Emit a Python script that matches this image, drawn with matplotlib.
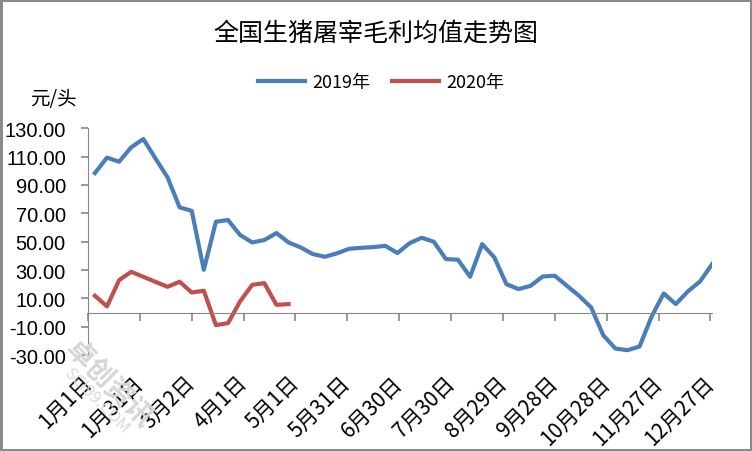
import datetime as dt
import pandas as pd
import matplotlib
matplotlib.use("Agg")
import matplotlib.pyplot as plt
import matplotlib.dates as mdates

plt.rcParams['font.family'] = ['Noto Sans CJK SC', 'DejaVu Sans']

# weekly gross profit, yuan per head
profit_2019 = [98.4, 109.3, 106.4, 116.6, 122.4, 108.8, 95.4, 74.2, 71.8, 30.2,
               64.1, 65.3, 54.7, 49.5, 51.2, 56.1, 49.5, 46.0, 41.3, 39.4,
               41.8, 45.0, 45.7, 46.2, 47.1, 42.0, 49.0, 52.8, 50.0, 37.8,
               37.3, 25.3, 48.3, 39.0, 20.1, 16.6, 18.9, 25.5, 26.0, 18.9,
               11.9, 3.7, -15.9, -25.3, -26.5, -23.9, -2.7, 13.5, 6.0, 15.0,
               22.0, 34.2]
# 2020 weeks 5-6 missing (spring festival)
profit_2020 = [11.9, 4.4, 22.9, 28.8, None, None, 18.2, 21.8, 14.2, 15.4,
               -8.8, -7.4, 8.0, 19.6, 20.8, 5.5, 6.0]

week_dates = pd.date_range("2019-01-05", periods=len(profit_2019), freq="7D")
tick_dates = pd.date_range("2019-01-01", "2019-12-27", freq="30D")
tick_labels = [f"{d.month}月{d.day}日" for d in tick_dates]
y_ticks = list(range(-30, 131, 20))

s2019 = pd.Series(profit_2019, index=week_dates)
s2020 = pd.Series(profit_2020, index=week_dates[:len(profit_2020)],
                  dtype=float).dropna()

fig = plt.figure(figsize=(7.52, 4.52), dpi=100)
fig.patch.set_edgecolor("#8a8a8a")
fig.patch.set_linewidth(2.5)
ax = fig.add_axes([0.117, 0.212, 0.830, 0.502])

ax.plot(s2019.index, s2019.values, color="#4a7ebb", lw=3, label="2019年",
        solid_joinstyle="round")
ax.plot(s2020.index, s2020.values, color="#c0504d", lw=3, label="2020年",
        solid_joinstyle="round")

ax.set_ylim(-30, 130)
ax.set_yticks(y_ticks)
ax.set_yticklabels([f"{v:.2f}" for v in y_ticks], fontsize=14.5,
                   family=["Liberation Sans", "DejaVu Sans"])
ax.set_xlim(mdates.date2num(dt.date(2019, 1, 1)),
            mdates.date2num(dt.date(2019, 12, 28)))

axis_grey = "#868686"
for side in ["top", "right"]:
    ax.spines[side].set_visible(False)
ax.spines["left"].set_color(axis_grey)
ax.spines["bottom"].set_color(axis_grey)
ax.spines["bottom"].set_position(("data", 0))
ax.set_xticks(tick_dates)
ax.tick_params(axis="x", colors=axis_grey, length=6, width=1.2,
               labelbottom=False)
ax.tick_params(axis="y", colors=axis_grey, length=5, width=1.2,
               labelcolor="black", pad=11)

# date labels sit below the plot, not on the zero line
sec = ax.secondary_xaxis("bottom")
sec.set_xticks(tick_dates)
sec.set_xticklabels(tick_labels, rotation=45, ha="right", va="center",
                    rotation_mode="anchor", fontsize=15)
sec.spines["bottom"].set_visible(False)
sec.tick_params(length=0, pad=17)

fig.text(0.5, 0.925, "全国生猪屠宰毛利均值走势图", ha="center", va="center",
         fontsize=18, weight="medium")
fig.text(0.04, 0.779, "元/头", ha="left", va="center", fontsize=14)
fig.legend(loc="center", bbox_to_anchor=(0.507, 0.816), ncol=2,
           frameon=False, fontsize=13, handlelength=2.6, columnspacing=1.2,
           handletextpad=0.4)

# faint watermark in the lower-left corner, behind everything
fig.text(0.145, 0.15, "卓创资讯", rotation=-45, ha="center", va="center",
         fontsize=20, color="#d6d6d6", weight="bold", zorder=0)
fig.text(0.128, 0.113, "SCI99.COM", rotation=-45, ha="center", va="center",
         fontsize=12, color="#dadada", zorder=0)

fig.savefig("out.png", dpi=100)
